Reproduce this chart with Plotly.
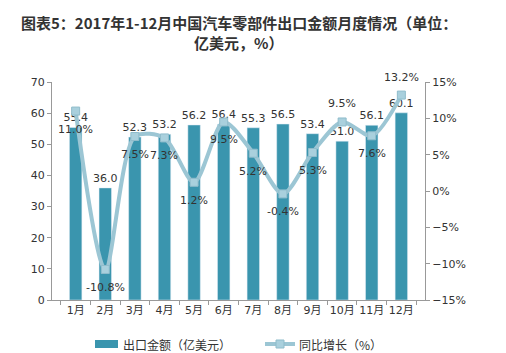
import plotly.graph_objects as go

months = ["1月", "2月", "3月", "4月", "5月", "6月", "7月", "8月", "9月", "10月", "11月", "12月"]
export_value = [55.4, 36.0, 52.3, 53.2, 56.2, 56.4, 55.3, 56.5, 53.4, 51.0, 56.1, 60.1]
yoy_growth = [11.0, -10.8, 7.5, 7.3, 1.2, 9.5, 5.2, -0.4, 5.3, 9.5, 7.6, 13.2]
growth_label_below = [True, True, True, True, True, True, True, True, True, False, True, False]
title_lines = ["图表5：2017年1-12月中国汽车零部件出口金额月度情况（单位：", "亿美元，%）"]
bar_name = "出口金额（亿美元）"
line_name = "同比增长（%）"

font_family = "DejaVu Sans, Noto Sans CJK SC, sans-serif"
cjk_family = "Noto Sans CJK SC, DejaVu Sans, sans-serif"
BAR_COLOR = "#3a95ae"
LINE_COLOR = "#9cc6d4"
MARK_COLOR = "#a9d0dd"
W, H, L, R, T, B = 506, 353, 52, 81, 82, 53
plot_w = W - L - R
plot_h = H - T - B


def px_x(px):
    return (px - L) / plot_w


def px_y(py):
    return (H - B - py) / plot_h


fig = go.Figure()
fig.add_trace(go.Bar(
    x=months, y=export_value, name=bar_name,
    marker=dict(color=BAR_COLOR),
    width=0.42,
    text=[f"{v:.1f}" for v in export_value],
    textposition="outside", cliponaxis=False, constraintext="none",
    textfont=dict(size=11, color="#333333", family=font_family),
))
fig.add_trace(go.Scatter(
    x=months, y=yoy_growth, name=line_name, yaxis="y2",
    mode="lines+markers",
    line=dict(color=LINE_COLOR, width=4, shape="spline", smoothing=0.8),
    marker=dict(symbol="square", size=8, color=MARK_COLOR, line=dict(color="#8fbccb", width=1)),
    cliponaxis=False,
))

for m, g, below in zip(months, yoy_growth, growth_label_below):
    fig.add_annotation(
        x=m, y=g, xref="x", yref="y2", text=f"{g:.1f}%", showarrow=False,
        yshift=-18 if below else 18,
        font=dict(size=11, color="#333333", family=font_family),
    )

for line, ypx in zip(title_lines, [22, 42]):
    fig.add_annotation(
        x=0.5, xref="paper", xanchor="center",
        y=px_y(ypx), yref="paper", yanchor="middle",
        text=f"<b>{line}</b>", showarrow=False,
        font=dict(size=15, color="#333333", family=cjk_family),
    )

# manual legend (kept inside the bottom margin)
ly = 344
fig.add_shape(type="rect", xref="paper", yref="paper",
              x0=px_x(95), x1=px_x(118), y0=px_y(ly + 4), y1=px_y(ly - 4),
              fillcolor=BAR_COLOR, line=dict(width=0))
fig.add_annotation(x=px_x(121), y=px_y(ly), xref="paper", yref="paper",
                   xanchor="left", yanchor="middle", showarrow=False,
                   text=bar_name, font=dict(size=12, color="#333333", family=cjk_family))
fig.add_shape(type="line", xref="paper", yref="paper",
              x0=px_x(265), x1=px_x(295), y0=px_y(ly), y1=px_y(ly),
              line=dict(color=LINE_COLOR, width=4))
fig.add_shape(type="rect", xref="paper", yref="paper",
              x0=px_x(276), x1=px_x(284), y0=px_y(ly + 4), y1=px_y(ly - 4),
              fillcolor=MARK_COLOR, line=dict(color="#8fbccb", width=1))
fig.add_annotation(x=px_x(297), y=px_y(ly), xref="paper", yref="paper",
                   xanchor="left", yanchor="middle", showarrow=False,
                   text=line_name, font=dict(size=12, color="#333333", family=cjk_family))

fig.update_layout(
    width=W, height=H,
    margin=dict(l=L, r=R, t=T, b=B),
    paper_bgcolor="white", plot_bgcolor="white",
    font=dict(family=font_family, size=11, color="#333333"),
    bargap=0.5,
    showlegend=False,
    xaxis=dict(
        showline=True, linecolor="#999999", ticks="outside", tickson="boundaries",
        ticklen=4, tickcolor="#999999", showgrid=False, tickangle=0,
        tickfont=dict(size=11, color="#333333"),
    ),
    yaxis=dict(
        range=[0, 70], dtick=10, showline=True, linecolor="#999999",
        ticks="outside", ticklen=4, tickcolor="#999999", showgrid=False, zeroline=False,
        tickfont=dict(size=11, color="#333333"),
    ),
    yaxis2=dict(
        range=[-15, 15], dtick=5, overlaying="y", side="right",
        showline=True, linecolor="#999999", ticks="outside", ticklen=4, tickcolor="#999999",
        showgrid=False, zeroline=False, ticksuffix="%",
        tickfont=dict(size=11, color="#333333"),
    ),
)

fig.write_html("out.html")
